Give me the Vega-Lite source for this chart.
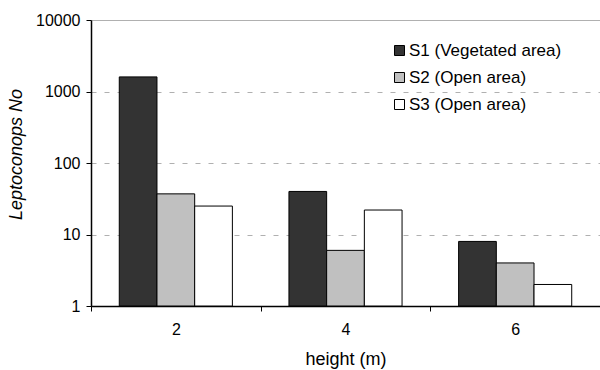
{
  "$schema": "https://vega.github.io/schema/vega-lite/v6.json",
  "width": 509,
  "height": 286,
  "autosize": "none",
  "padding": {"left": 91, "top": 20, "right": 0, "bottom": 64},
  "background": "white",
  "data": {"values": [
    {"height": "2", "series": "S1 (Vegetated area)", "count": 1600},
    {"height": "2", "series": "S2 (Open area)", "count": 37},
    {"height": "2", "series": "S3 (Open area)", "count": 25},
    {"height": "4", "series": "S1 (Vegetated area)", "count": 40},
    {"height": "4", "series": "S2 (Open area)", "count": 6},
    {"height": "4", "series": "S3 (Open area)", "count": 22},
    {"height": "6", "series": "S1 (Vegetated area)", "count": 8},
    {"height": "6", "series": "S2 (Open area)", "count": 4},
    {"height": "6", "series": "S3 (Open area)", "count": 2}
  ]},
  "config": {
    "view": {"stroke": null},
    "font": "Liberation Sans",
    "axis": {"labelFont": "Liberation Sans", "titleFont": "Liberation Sans", "labelColor": "black", "titleColor": "black", "titleFontWeight": "normal", "domainColor": "black", "tickColor": "black"}
  },
  "mark": {"type": "bar", "stroke": "black", "strokeWidth": 1},
  "encoding": {
    "x": {
      "field": "height", "type": "nominal",
      "scale": {"paddingInner": 0, "paddingOuter": 0},
      "axis": {"title": "height (m)", "labelAngle": 0, "labelFontSize": 16, "titleFontSize": 18, "labelPadding": 10, "titlePadding": 13, "tickBand": "extent", "tickSize": 5, "domainWidth": 1.5}
    },
    "xOffset": {"field": "series", "type": "nominal", "sort": ["S1 (Vegetated area)", "S2 (Open area)", "S3 (Open area)"], "scale": {"paddingInner": 0, "paddingOuter": 0.75}},
    "y": {
      "field": "count", "type": "quantitative",
      "scale": {"type": "log", "domain": [1, 10000], "nice": false},
      "axis": {"title": "Leptoconops No", "titleFontStyle": "italic", "titleY": 134, "values": [1, 10, 100, 1000, 10000], "format": "d", "labelFontSize": 16, "titleFontSize": 18, "labelPadding": 6, "titlePadding": 10, "tickSize": 5, "grid": true, "gridColor": "#b0b0b0", "gridDash": {"condition": {"test": "datum.value == 10000", "value": []}, "value": [5, 8]}, "domainWidth": 1.5}
    },
    "y2": {"datum": 1},
    "fill": {
      "field": "series", "type": "nominal",
      "scale": {"domain": ["S1 (Vegetated area)", "S2 (Open area)", "S3 (Open area)"], "range": ["#333333", "#c0c0c0", "#ffffff"]},
      "legend": {"title": null, "orient": "none", "legendX": 300, "legendY": 22, "symbolType": "square", "symbolSize": 100, "symbolStrokeColor": "black", "symbolStrokeWidth": 1, "labelFontSize": 17, "labelColor": "black", "labelFont": "Liberation Sans", "rowPadding": 9, "labelOffset": 1}
    }
  }
}
